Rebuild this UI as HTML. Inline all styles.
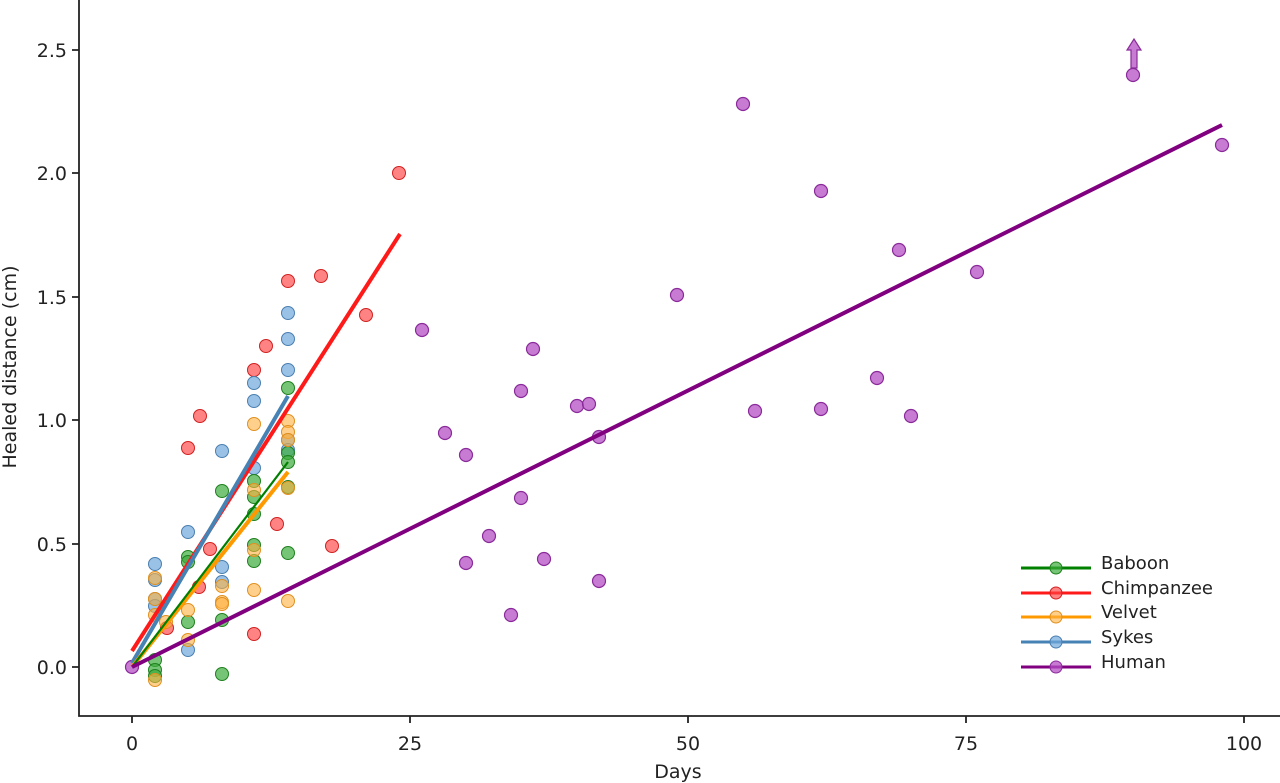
<!DOCTYPE html><html><head><style>body{margin:0;background:#fff}svg{display:block}text{font-family:"DejaVu Sans","Liberation Sans",sans-serif;fill:#222}</style></head><body>
<svg width="1280" height="783" viewBox="0 0 1280 783">
<g stroke="#222" stroke-width="1.8" fill="none"><path d="M79,0V716H1280"/>
<path d="M132,716v7M410,716v7M688,716v7M966,716v7M1244,716v7M79,667h-7M79,544h-7M79,420h-7M79,297h-7M79,173h-7M79,50h-7"/></g>
<g font-size="19" text-anchor="middle"><text x="132" y="750">0</text><text x="410" y="750">25</text><text x="688" y="750">50</text><text x="966" y="750">75</text><text x="1244" y="750">100</text></g>
<g font-size="19" text-anchor="end"><text x="67" y="674">0.0</text><text x="67" y="551">0.5</text><text x="67" y="427">1.0</text><text x="67" y="304">1.5</text><text x="67" y="180">2.0</text><text x="67" y="57">2.5</text></g>
<text x="678" y="778" font-size="19" text-anchor="middle">Days</text>
<text transform="translate(16,367) rotate(-90)" font-size="19" text-anchor="middle">Healed distance (cm)</text>
<g fill="#b44fc4" fill-opacity="0.75" stroke="#8a2a9a" stroke-width="1.2">
<circle cx="132" cy="667" r="6.5"/><circle cx="422" cy="330" r="6.5"/><circle cx="445" cy="433" r="6.5"/><circle cx="466" cy="455" r="6.5"/><circle cx="466" cy="563" r="6.5"/><circle cx="489" cy="536" r="6.5"/><circle cx="511" cy="615" r="6.5"/><circle cx="521" cy="391" r="6.5"/><circle cx="521" cy="498" r="6.5"/><circle cx="533" cy="349" r="6.5"/><circle cx="544" cy="559" r="6.5"/><circle cx="577" cy="406" r="6.5"/><circle cx="589" cy="404" r="6.5"/><circle cx="599" cy="437" r="6.5"/><circle cx="599" cy="581" r="6.5"/><circle cx="677" cy="295" r="6.5"/><circle cx="743" cy="104" r="6.5"/><circle cx="755" cy="411" r="6.5"/><circle cx="821" cy="191" r="6.5"/><circle cx="821" cy="409" r="6.5"/><circle cx="877" cy="378" r="6.5"/><circle cx="899" cy="250" r="6.5"/><circle cx="911" cy="416" r="6.5"/><circle cx="977" cy="272" r="6.5"/><circle cx="1133" cy="75" r="6.5"/><circle cx="1222" cy="145" r="6.5"/>
<path d="M1131,68V50h-4l7,-11l7,11h-4V68z"/></g>
<g fill="#ff4040" fill-opacity="0.65" stroke="#d02020" stroke-width="1">
<circle cx="167" cy="628" r="6.5"/><circle cx="188" cy="448" r="6.5"/><circle cx="199" cy="587" r="6.5"/><circle cx="200" cy="416" r="6.5"/><circle cx="210" cy="549" r="6.5"/><circle cx="254" cy="370" r="6.5"/><circle cx="254" cy="634" r="6.5"/><circle cx="266" cy="346" r="6.5"/><circle cx="277" cy="524" r="6.5"/><circle cx="288" cy="281" r="6.5"/><circle cx="321" cy="276" r="6.5"/><circle cx="332" cy="546" r="6.5"/><circle cx="366" cy="315" r="6.5"/><circle cx="399" cy="173" r="6.5"/></g>
<g fill="#6fa8dc" fill-opacity="0.7" stroke="#4a7fb0" stroke-width="1">
<circle cx="155" cy="564" r="6.5"/><circle cx="155" cy="580" r="6.5"/><circle cx="155" cy="599" r="6.5"/><circle cx="155" cy="606" r="6.5"/><circle cx="188" cy="532" r="6.5"/><circle cx="188" cy="650" r="6.5"/><circle cx="222" cy="451" r="6.5"/><circle cx="222" cy="582" r="6.5"/><circle cx="222" cy="567" r="6.5"/><circle cx="254" cy="383" r="6.5"/><circle cx="254" cy="401" r="6.5"/><circle cx="254" cy="468" r="6.5"/><circle cx="288" cy="313" r="6.5"/><circle cx="288" cy="339" r="6.5"/><circle cx="288" cy="370" r="6.5"/><circle cx="288" cy="440" r="6.5"/><circle cx="288" cy="450" r="6.5"/></g>
<g fill="#3cab3c" fill-opacity="0.7" stroke="#1e801e" stroke-width="1">
<circle cx="155" cy="660" r="6.5"/><circle cx="155" cy="670" r="6.5"/><circle cx="155" cy="676" r="6.5"/><circle cx="188" cy="622" r="6.5"/><circle cx="188" cy="557" r="6.5"/><circle cx="188" cy="562" r="6.5"/><circle cx="222" cy="491" r="6.5"/><circle cx="222" cy="674" r="6.5"/><circle cx="222" cy="620" r="6.5"/><circle cx="254" cy="481" r="6.5"/><circle cx="254" cy="514" r="6.5"/><circle cx="254" cy="545" r="6.5"/><circle cx="254" cy="561" r="6.5"/><circle cx="288" cy="388" r="6.5"/><circle cx="288" cy="453" r="6.5"/><circle cx="288" cy="462" r="6.5"/><circle cx="288" cy="487" r="6.5"/><circle cx="288" cy="553" r="6.5"/><circle cx="254" cy="497" r="6.5"/></g>
<g fill="#ffb040" fill-opacity="0.6" stroke="#e09020" stroke-width="1">
<circle cx="155" cy="680" r="6.5"/><circle cx="155" cy="578" r="6.5"/><circle cx="155" cy="599" r="6.5"/><circle cx="155" cy="615" r="6.5"/><circle cx="188" cy="610" r="6.5"/><circle cx="188" cy="640" r="6.5"/><circle cx="222" cy="586" r="6.5"/><circle cx="222" cy="602" r="6.5"/><circle cx="222" cy="604" r="6.5"/><circle cx="254" cy="424" r="6.5"/><circle cx="254" cy="490" r="6.5"/><circle cx="254" cy="550" r="6.5"/><circle cx="254" cy="590" r="6.5"/><circle cx="288" cy="421" r="6.5"/><circle cx="288" cy="432" r="6.5"/><circle cx="288" cy="440" r="6.5"/><circle cx="288" cy="488" r="6.5"/><circle cx="288" cy="601" r="6.5"/><circle cx="166" cy="622" r="6.5"/></g>
<g stroke-width="4" fill="none">
<path d="M132,651L400,234" stroke="#ff1a1a"/>
<path d="M132,663L288,396" stroke="#4682b4"/>
<path d="M132,667L288,472" stroke="#ff9900"/>
<path d="M132,667L288,462" stroke="#008000" stroke-width="2.2"/>
<path d="M132,667L1222,125" stroke="#800080"/></g>
<g font-size="18">
<path d="M1021,568h70" stroke="#008000" stroke-width="3"/><circle cx="1056" cy="568" r="6" fill="#3cab3c" fill-opacity="0.7" stroke="#1e801e"/><text x="1101" y="569">Baboon</text>
<path d="M1021,593h70" stroke="#ff1a1a" stroke-width="3"/><circle cx="1056" cy="593" r="6" fill="#ff4040" fill-opacity="0.65" stroke="#d02020"/><text x="1101" y="594">Chimpanzee</text>
<path d="M1021,617h70" stroke="#ff9900" stroke-width="3"/><circle cx="1056" cy="617" r="6" fill="#ffb040" fill-opacity="0.6" stroke="#e09020"/><text x="1101" y="618">Velvet</text>
<path d="M1021,642h70" stroke="#4682b4" stroke-width="3"/><circle cx="1056" cy="642" r="6" fill="#6fa8dc" fill-opacity="0.7" stroke="#4a7fb0"/><text x="1101" y="643">Sykes</text>
<path d="M1021,667h70" stroke="#800080" stroke-width="3"/><circle cx="1056" cy="667" r="6" fill="#b44fc4" fill-opacity="0.75" stroke="#8a2a9a"/><text x="1101" y="668">Human</text></g>
</svg></body></html>
